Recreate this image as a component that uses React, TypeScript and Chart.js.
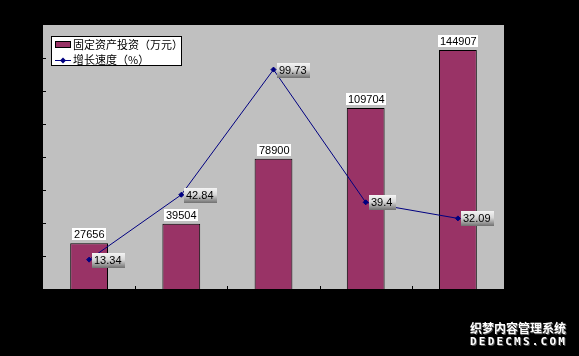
import React, { useEffect, useRef } from "react";
import { Chart, registerables } from "chart.js";

Chart.register(...registerables);

const categories = ["1", "2", "3", "4", "5"];
const investment = [27656, 39504, 78900, 109704, 144907];
const growth = [13.34, 42.84, 99.73, 39.4, 32.09];
const investmentLabel = "固定资产投资（万元）";
const growthLabel = "增长速度（%）";
const leftMax = 160000;
const leftStep = 20000;
const rightMax = 120;

const NUM_FONT = "11px 'Liberation Sans Narrow', 'Liberation Sans', Arial, sans-serif";
const CJK_FONT = "11px 'Noto Sans CJK SC', sans-serif";

const decorPlugin = {
  id: "decor",
  beforeDraw(chart: any) {
    const { ctx, chartArea: a } = chart;
    ctx.save();
    ctx.fillStyle = "#000000";
    ctx.fillRect(0, 0, chart.width, chart.height);
    ctx.fillStyle = "#C0C0C0";
    ctx.fillRect(a.left, a.top, a.right - a.left, a.bottom - a.top);
    ctx.restore();
  },
  afterDatasetsDraw(chart: any) {
    const { ctx, chartArea: a } = chart;
    const y = chart.scales.y;
    const x = chart.scales.x;
    ctx.save();
    ctx.strokeStyle = "#000";
    ctx.lineWidth = 1;
    ctx.beginPath();
    for (let v = leftStep; v < leftMax; v += leftStep) {
      const py = Math.round(y.getPixelForValue(v)) + 0.5;
      ctx.moveTo(a.left, py);
      ctx.lineTo(a.left + 3, py);
    }
    for (let i = 0; i < categories.length - 1; i++) {
      const px = Math.round((x.getPixelForValue(i) + x.getPixelForValue(i + 1)) / 2) + 0.5;
      ctx.moveTo(px, a.bottom);
      ctx.lineTo(px, a.bottom - 3);
    }
    ctx.stroke();

    // bar labels
    ctx.font = NUM_FONT;
    ctx.textBaseline = "middle";
    ctx.textAlign = "left";
    const barMeta = chart.getDatasetMeta(0);
    barMeta.data.forEach((el: any, i: number) => {
      const t = String(investment[i]);
      const w = Math.ceil(ctx.measureText(t).width) + 3;
      const h = 12;
      const bx = Math.round(el.x - w / 2);
      const by = Math.round(el.y - 3 - h);
      ctx.fillStyle = "#FFFFFF";
      ctx.fillRect(bx, by, w, h);
      ctx.fillStyle = "#000";
      ctx.fillText(t, bx + 2, by + h / 2 + 0.5);
    });

    // line labels
    const lineMeta = chart.getDatasetMeta(1);
    lineMeta.data.forEach((el: any, i: number) => {
      const t = String(growth[i]);
      const w = Math.ceil(ctx.measureText(t).width) + 5;
      const h = 15;
      const bx = Math.round(el.x + 3);
      const by = Math.round(el.y - 7);
      const g = ctx.createLinearGradient(0, by, 0, by + h);
      g.addColorStop(0, "#F4F4F4");
      g.addColorStop(0.45, "#D8D8D8");
      g.addColorStop(1, "#707070");
      ctx.fillStyle = g;
      ctx.fillRect(bx, by, w, h);
      ctx.fillStyle = "#000";
      ctx.fillText(t, bx + 2, by + h / 2);
    });

    // legend
    const lx = 51, ly = 36, lw = 131, lh = 30;
    ctx.fillStyle = "#FFFFFF";
    ctx.fillRect(lx, ly, lw, lh);
    ctx.strokeStyle = "#000";
    ctx.strokeRect(lx + 0.5, ly + 0.5, lw - 1, lh - 1);
    ctx.fillStyle = "#993366";
    ctx.fillRect(55, 41, 16, 7);
    ctx.strokeRect(55.5, 41.5, 15, 6);
    ctx.strokeStyle = "#000080";
    ctx.beginPath();
    ctx.moveTo(55, 60.5);
    ctx.lineTo(71, 60.5);
    ctx.stroke();
    ctx.fillStyle = "#000080";
    ctx.beginPath();
    ctx.moveTo(63, 57.5);
    ctx.lineTo(66, 60.5);
    ctx.lineTo(63, 63.5);
    ctx.lineTo(60, 60.5);
    ctx.closePath();
    ctx.fill();
    ctx.fillStyle = "#000";
    ctx.font = CJK_FONT;
    ctx.fillText(investmentLabel, 73, 45);
    ctx.fillText(growthLabel, 73, 60);
    ctx.restore();
  },
};

export default function App() {
  const ref = useRef<HTMLCanvasElement | null>(null);
  useEffect(() => {
    if (!ref.current) return;
    const chart = new Chart(ref.current, {
      type: "bar",
      data: {
        labels: categories,
        datasets: [
          {
            type: "bar",
            label: investmentLabel,
            data: investment,
            backgroundColor: "#993366",
            borderColor: "#000000",
            borderWidth: 1,
            yAxisID: "y",
            categoryPercentage: 1,
            barPercentage: 0.41,
            order: 2,
          } as any,
          {
            type: "line",
            label: growthLabel,
            data: growth,
            borderColor: "#000080",
            borderWidth: 1,
            pointStyle: "rectRot",
            pointRadius: 2.5,
            pointBackgroundColor: "#000080",
            pointBorderColor: "#000080",
            yAxisID: "y1",
            tension: 0,
            order: 1,
          } as any,
        ],
      },
      options: {
        responsive: false,
        animation: false,
        devicePixelRatio: 1,
        layout: { padding: { left: 43, top: 25, right: 75, bottom: 67 } },
        plugins: { legend: { display: false }, tooltip: { enabled: false } },
        scales: {
          x: { display: false, offset: true },
          y: { display: false, min: 0, max: leftMax },
          y1: { display: false, min: 0, max: rightMax, position: "right" },
        },
      },
      plugins: [decorPlugin],
    });
    return () => chart.destroy();
  }, []);

  return (
    <div style={{ position: "fixed", left: 0, top: 0, width: 579, height: 356, background: "#000", overflow: "hidden" }}>
      <canvas ref={ref} width={579} height={356} style={{ display: "block" }} />
      <div
        style={{
          position: "absolute",
          left: 470,
          top: 320,
          color: "#FFFFFF",
          font: "bold 12px 'Noto Sans CJK SC', sans-serif",
          lineHeight: "15px",
          whiteSpace: "nowrap",
          textShadow: "1px 1px 0 #555",
        }}
      >
        织梦内容管理系统
      </div>
      <div
        style={{
          position: "absolute",
          left: 470,
          top: 335,
          color: "#FFFFFF",
          font: "bold 11px 'DejaVu Sans Mono', monospace",
          letterSpacing: "2.2px",
          lineHeight: "13px",
          whiteSpace: "nowrap",
          textShadow: "1px 1px 0 #555",
        }}
      >
        DEDECMS.COM
      </div>
    </div>
  );
}
